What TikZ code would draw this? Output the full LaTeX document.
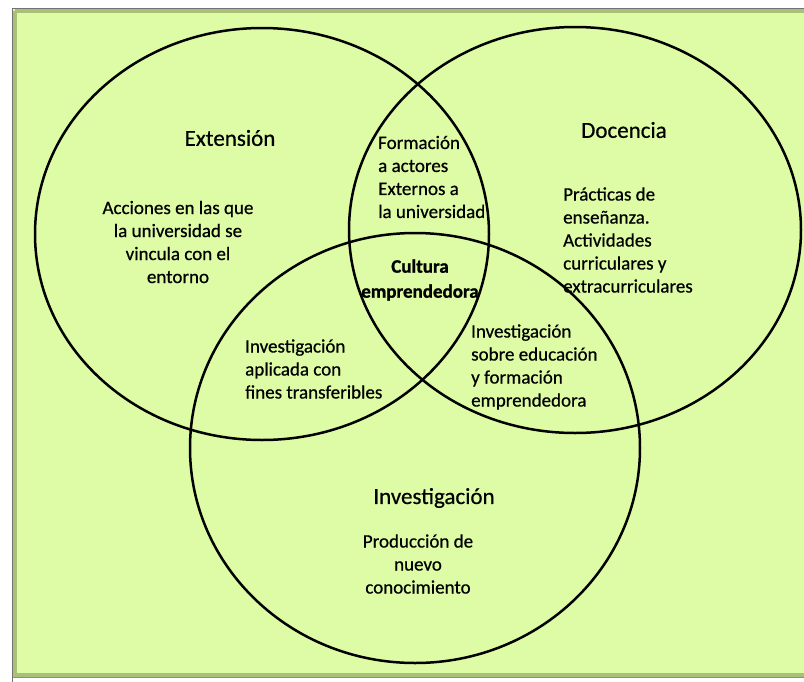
\documentclass[tikz,border=0pt]{standalone}
\usepackage{fontspec}
\setmainfont{Carlito}[FakeBold=1.2]
\usepackage{xcolor}
\usepackage{tikz}
\usetikzlibrary{positioning}
\definecolor{bgpaper}{RGB}{222,252,166}
\definecolor{bgshade}{RGB}{168,192,120}
\newfontfamily\heavyfont{Carlito}[FakeBold=0.6]

\begin{document}
\begin{tikzpicture}[x=1pt, y=-1pt,
        area/.style={draw=black, line width=2.5pt},
        title/.style={inner sep=0pt, font=\heavyfont\fontsize{23}{28}\selectfont},
        body/.style={inner sep=0pt, font=\heavyfont\fontsize{19}{23}\selectfont}]
        \useasboundingbox (0,0) rectangle (804,681);

        % Frame
        \fill[bgpaper] (12,8) rectangle (812,678);
        \draw[bgshade, line width=4pt] (15,11) -- (15,675) -- (812,675);
        \draw[bgshade, line width=4pt] (15,11) -- (812,11);
        \draw[black!55, line width=1.2pt] (12.6,812) -- (12.6,8.6) -- (812,8.6);
        \draw[black!45, line width=1.2pt] (12.6,677.4) -- (812,677.4);

        % Three areas
        \draw[area] (262,234) ellipse [x radius=227pt, y radius=206pt];
        \draw[area] (575,230) ellipse [x radius=226pt, y radius=203pt];
        \draw[area] (415,448) ellipse [x radius=225pt, y radius=215pt];

        \node[title] (ext)   at (230,138) {Extensión};
        \node[body, align=center] (extTxt) at (178,242)
              {Acciones en las que\\la universidad se\\vincula con el\\entorno};

        \node[title] (doc)   at (624,130) {Docencia};
        \node[body, align=left, anchor=west] (docTxt) at (563,240)
              {Prácticas de\\enseñanza.\\Actividades\\curriculares y\\extracurriculares};

        \node[title] (inv)   at (434,498) {Investigación};
        \node[body, align=center] (invTxt) at (418,564)
              {Producción de\\nuevo\\conocimiento};

        % Overlaps
        \node[body, align=left, anchor=west] (extDoc) at (378,177)
              {Formación\\a actores\\Externos a\\la universidad};
        \node[body, align=center, font=\rmfamily\fontsize{19}{25}\selectfont\bfseries] (core) at (420,280)
              {Cultura\\emprendedora};
        \node[body, align=left, anchor=west] (extInv) at (245,369)
              {Investigación\\aplicada con\\fines transferibles};
        \node[body, align=left, anchor=west] (docInv) at (471,367)
              {Investigación\\sobre educación\\y formación\\emprendedora};
    \end{tikzpicture}
\end{document}
